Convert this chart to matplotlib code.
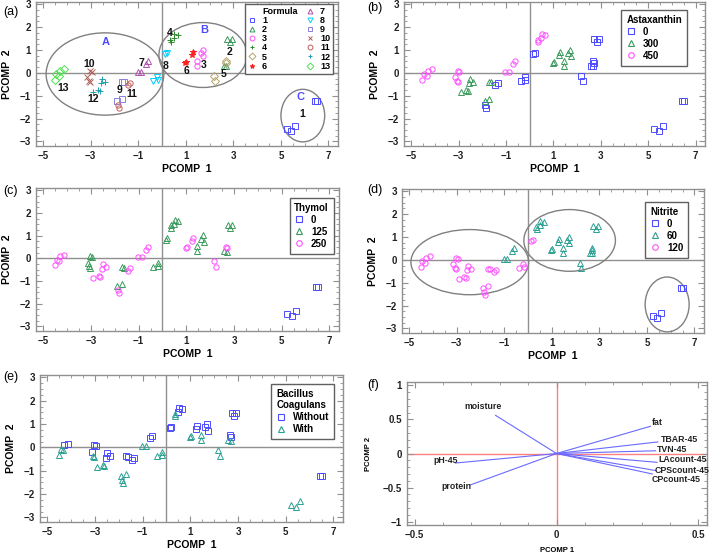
import matplotlib
matplotlib.use('Agg')
import matplotlib.pyplot as plt
from matplotlib.lines import Line2D
from matplotlib.patches import Ellipse
from matplotlib.ticker import MultipleLocator, FuncFormatter

plt.rcParams['font.family'] = ['Liberation Sans', 'DejaVu Sans']
plt.rcParams['font.weight'] = 'bold'
plt.rcParams['axes.labelweight'] = 'bold'

# PCA scores, one entry per sample
pc1 = [5.24, 5.44, 5.61, 6.44, 6.51,
       2.73, 2.85, 2.93, 2.59, 2.69,
       1.46, 1.45, 1.62, 1.72, 1.73,
       0.37, 0.35, 0.52, 0.66, 0.49,
       2.68, 2.70, 2.17, 2.24,
       0.97, 1.01, 1.25, 1.30,
       -1.03, -0.87, -0.68, -0.61,
       -0.38, -0.20, -0.18, 0.13, 0.21,
       -1.90, -1.70, -1.70, -1.62,
       -3.14, -3.08, -3.03, -3.04, -2.96,
       -1.87, -1.82, -1.45, -1.34,
       -2.89, -2.68, -2.62, -2.55, -2.51, -2.38,
       -4.52, -4.44, -4.34, -4.30, -4.13]
pc2 = [-2.45, -2.54, -2.32, -1.24, -1.24,
       1.49, 1.33, 1.49, 0.32, 0.28,
       0.32, 0.54, 0.86, 1.01, 0.72,
       1.33, 1.45, 1.69, 1.66, 1.52,
       0.51, 0.45, -0.13, -0.36,
       0.45, 0.48, 0.77, 0.91,
       0.04, 0.04, 0.38, 0.50,
       -0.36, -0.20, -0.32, 0.83, 0.89,
       -1.23, -1.14, -0.39, -0.41,
       -0.20, -0.35, -0.41, 0.09, 0.04,
       -1.39, -1.52, -0.55, -0.44,
       -0.85, -0.77, -0.80, -0.45, -0.26, -0.38,
       -0.31, -0.06, -0.12, 0.09, 0.16]
formula = [1, 1, 1, 1, 1,
           2, 2, 2, 2, 2,
           3, 3, 3, 3, 3,
           4, 4, 4, 4, 4,
           5, 5, 5, 5,
           6, 6, 6, 6,
           7, 7, 7, 7,
           8, 8, 8, 8, 8,
           9, 9, 9, 9,
           10, 10, 10, 10, 10,
           11, 11, 11, 11,
           12, 12, 12, 12, 12, 12,
           13, 13, 13, 13, 13]
# 1 = with Bacillus coagulans, 0 = without
bacillus = [1, 1, 1, 0, 0,
            0, 0, 0, 1, 1,
            1, 1, 0, 0, 0,
            1, 1, 0, 0, 0,
            0, 0, 1, 1,
            1, 1, 0, 0,
            1, 1, 0, 0,
            1, 1, 1, 0, 0,
            1, 1, 0, 0,
            0, 1, 1, 0, 0,
            1, 1, 0, 0,
            1, 1, 1, 0, 0, 0,
            1, 1, 1, 0, 0]

# factor levels of formulas 1..13
asta_lvl = [0, 0, 300, 450, 0, 300, 450, 0, 300, 450, 0, 300, 450]
thymol_lvl = [0, 125, 125, 125, 250, 250, 250, 125, 125, 125, 250, 250, 250]
nitrite_lvl = [0, 60, 60, 60, 60, 60, 60, 120, 120, 120, 120, 120, 120]

# loadings (panel f)
var_names = ['moisture', 'fat', 'TBAR-45', 'TVN-45', 'LAcount-45',
             'CPScount-45', 'CPcount-45', 'pH-45', 'protein']
load1 = [-0.215, 0.331, 0.357, 0.349, 0.354, 0.349, 0.337, -0.356, -0.303]
load2 = [0.56, 0.40, 0.17, 0.04, -0.13, -0.25, -0.30, -0.14, -0.46]
label_xy = [(-0.326, 0.69), (0.335, 0.45), (0.366, 0.21), (0.354, 0.065),
            (0.36, -0.09), (0.344, -0.255), (0.335, -0.38),
            (-0.434, -0.11), (-0.406, -0.48)]

BLUE = '#4d4dff'
GREEN = '#3a9a5c'
TEAL = '#2aa092'
MAGENTA = '#ff4dff'
MS = 3.8

form_style = {
    1: ('s', '#4d4dff'), 2: ('^', '#3a9a5c'), 3: ('o', '#ff4dff'),
    4: ('+', '#2e8b2e'), 5: ('D', '#b5a46a'), 6: ('*', '#ff2020'),
    7: ('^', '#b04fb0'), 8: ('v', '#00d0ff'), 9: ('s', '#8a80e0'),
    10: ('x', '#b0605a'), 11: ('o', '#c0605a'), 12: ('+', '#20a0b0'),
    13: ('D', '#50e050'),
}

W, H = 709, 553
fig = plt.figure(figsize=(W / 100, H / 100), dpi=100)


def box(l, t, r, b):
    return [l / W, 1 - b / H, (r - l) / W, (b - t) / H]


def minus(v, pos):
    s = '%g' % v
    return s.replace('-', '\u2212')


def style_axes(ax, red=False):
    for sp in ax.spines.values():
        sp.set_color('#909090')
        sp.set_linewidth(1.0)
    ax.tick_params(which='both', direction='in', top=True, right=True,
                   color='#909090', labelsize=7, labelcolor='#222222')
    ax.tick_params(which='major', length=4)
    ax.tick_params(which='minor', length=2)
    ax.xaxis.set_major_formatter(FuncFormatter(minus))
    ax.yaxis.set_major_formatter(FuncFormatter(minus))
    lc = '#ff8080' if red else '#909090'
    ax.axhline(0, color=lc, lw=1.0, zorder=1)
    ax.axvline(0, color=lc, lw=1.0, zorder=1)


def score_axes(ax):
    ax.set_xlim(-5.3, 7.4)
    ax.set_ylim(-3.2, 3.1)
    ax.set_xticks([-5, -3, -1, 1, 3, 5, 7])
    ax.set_yticks([-3, -2, -1, 0, 1, 2, 3])
    ax.xaxis.set_minor_locator(MultipleLocator(0.5))
    ax.yaxis.set_minor_locator(MultipleLocator(0.25))
    style_axes(ax)
    ax.set_xlabel('PCOMP  1', fontsize=7.5, labelpad=2)
    ax.set_ylabel('PCOMP  2', fontsize=7.5, labelpad=6)


def make_legend(ax, handles, anchor, **kw):
    opts = dict(loc='upper right', bbox_to_anchor=anchor, borderaxespad=0,
                fontsize=7, fancybox=False, edgecolor='#606060',
                framealpha=1, handletextpad=0.7, labelspacing=0.2,
                borderpad=0.5, handlelength=1.0)
    opts.update(kw)
    leg = ax.legend(handles=handles, **opts)
    leg.get_frame().set_linewidth(1.0)
    return leg


def draw_groups(ax, groups, title, anchor):
    handles = []
    for lab, mk, col, sel in groups:
        xs = [pc1[i] for i in range(len(pc1)) if sel(i)]
        ys = [pc2[i] for i in range(len(pc1)) if sel(i)]
        ax.plot(xs, ys, ls='none', marker=mk, mfc='none', mec=col,
                ms=MS, mew=0.7, zorder=3)
        handles.append(Line2D([], [], ls='none', marker=mk, mfc='none',
                              mec=col, ms=4, mew=0.8, label=lab))
    make_legend(ax, handles, anchor, title=title,
                title_fontproperties={'weight': 'bold', 'size': 7},
                alignment='left')


def fidx(i):
    return formula[i] - 1


# (a) formulas
ax = fig.add_axes(box(36, 2, 338, 146))
score_axes(ax)
handles = [Line2D([], [], ls='none', marker=None, label='Formula')]
for f in range(1, 14):
    mk, col = form_style[f]
    xs = [pc1[i] for i in range(len(pc1)) if formula[i] == f]
    ys = [pc2[i] for i in range(len(pc1)) if formula[i] == f]
    filled = mk == '*'
    ax.plot(xs, ys, ls='none', marker=mk, mfc=col if filled else 'none',
            mec=col, ms=MS, mew=0.7, zorder=3)
    handles.append(Line2D([], [], ls='none', marker=mk,
                          mfc=col if filled else 'none', mec=col, ms=3.5,
                          mew=0.7, label=str(f)))
make_legend(ax, handles, (0.983, 0.986), ncol=2, fontsize=6.5,
            labelspacing=0.02, borderpad=0.3, columnspacing=0.9,
            handletextpad=0.6)
for e in [(-2.4, -0.05, 4.95, 3.6), (1.72, 0.78, 3.7, 2.84),
          (5.92, -1.87, 1.84, 2.3)]:
    ax.add_patch(Ellipse((e[0], e[1]), e[2], e[3], fill=False,
                         ec='#808080', lw=1.0, zorder=2))
for t, x, y in [('A', -2.36, 1.36), ('B', 1.77, 1.87), ('C', 5.83, -1.05)]:
    ax.text(x, y, t, color='#4d4dff', fontsize=8, ha='center', va='center')
num_labels = [('10', -3.06, 0.39), ('13', -4.17, -0.68), ('12', -2.91, -1.16),
              ('9', -1.77, -0.75), ('11', -1.27, -0.94), ('7', -0.86, 0.44),
              ('8', 0.13, 0.30), ('4', 0.34, 1.73), ('6', 1.04, 0.09),
              ('3', 1.77, 0.34), ('2', 2.85, 0.92), ('5', 2.58, -0.05),
              ('1', 5.91, -1.8)]
for t, x, y in num_labels:
    ax.text(x, y, t, fontsize=7.5, ha='center', va='center', color='#111111')

# (b) astaxanthin
ax = fig.add_axes(box(404, 2, 705, 146))
score_axes(ax)
draw_groups(ax, [
    ('0', 's', BLUE, lambda i: asta_lvl[fidx(i)] == 0),
    ('300', '^', GREEN, lambda i: asta_lvl[fidx(i)] == 300),
    ('450', 'o', MAGENTA, lambda i: asta_lvl[fidx(i)] == 450),
], 'Astaxanthin', (0.94, 0.944))

# (c) thymol
ax = fig.add_axes(box(36, 188, 339, 331))
score_axes(ax)
draw_groups(ax, [
    ('0', 's', BLUE, lambda i: thymol_lvl[fidx(i)] == 0),
    ('125', '^', GREEN, lambda i: thymol_lvl[fidx(i)] == 125),
    ('250', 'o', MAGENTA, lambda i: thymol_lvl[fidx(i)] == 250),
], 'Thymol', (0.983, 0.93))

# (d) nitrite
ax = fig.add_axes(box(402, 189, 704, 333))
score_axes(ax)
draw_groups(ax, [
    ('0', 's', BLUE, lambda i: nitrite_lvl[fidx(i)] == 0),
    ('60', '^', TEAL, lambda i: nitrite_lvl[fidx(i)] == 60),
    ('120', 'o', MAGENTA, lambda i: nitrite_lvl[fidx(i)] == 120),
], 'Nitrite', (0.947, 0.91))
for e in [(-2.45, -0.1, 4.95, 2.85), (1.75, 0.85, 3.85, 2.7),
          (5.85, -1.95, 1.85, 2.4)]:
    ax.add_patch(Ellipse((e[0], e[1]), e[2], e[3], fill=False,
                         ec='#808080', lw=1.0, zorder=2))

# (e) bacillus coagulans
ax = fig.add_axes(box(40, 375, 343, 522))
score_axes(ax)
draw_groups(ax, [
    ('Without', 's', BLUE, lambda i: bacillus[i] == 0),
    ('With', '^', TEAL, lambda i: bacillus[i] == 1),
], 'Bacillus\nCoagulans', (0.97, 0.94))

# (f) loadings
ax = fig.add_axes(box(407, 382, 707, 525))
ax.set_xlim(-0.527, 0.53)
ax.set_ylim(-1.05, 1.05)
ax.set_xticks([-0.5, 0, 0.5])
ax.set_yticks([-1, -0.5, 0, 0.5, 1])
ax.xaxis.set_minor_locator(MultipleLocator(0.1))
ax.yaxis.set_minor_locator(MultipleLocator(0.1))
style_axes(ax, red=True)
for k in range(len(var_names)):
    ax.plot([0, load1[k]], [0, load2[k]], color='#6a6aff', lw=0.8, zorder=3)
    ax.text(label_xy[k][0], label_xy[k][1], var_names[k], fontsize=6.3,
            ha='left', va='center', color='#222222')
ax.set_xlabel('PCOMP 1', fontsize=5.5, labelpad=5)
ax.set_ylabel('PCOMP 2', fontsize=5.5, labelpad=8)

for t, x, y in [('(a)', 0.004, 0.978), ('(b)', 0.518, 0.985),
                ('(c)', 0.004, 0.655), ('(d)', 0.518, 0.656),
                ('(e)', 0.004, 0.318), ('(f)', 0.518, 0.304)]:
    fig.text(x, y, t, fontsize=9, weight='normal', ha='left', va='center')

fig.savefig('out.png', dpi=100)
